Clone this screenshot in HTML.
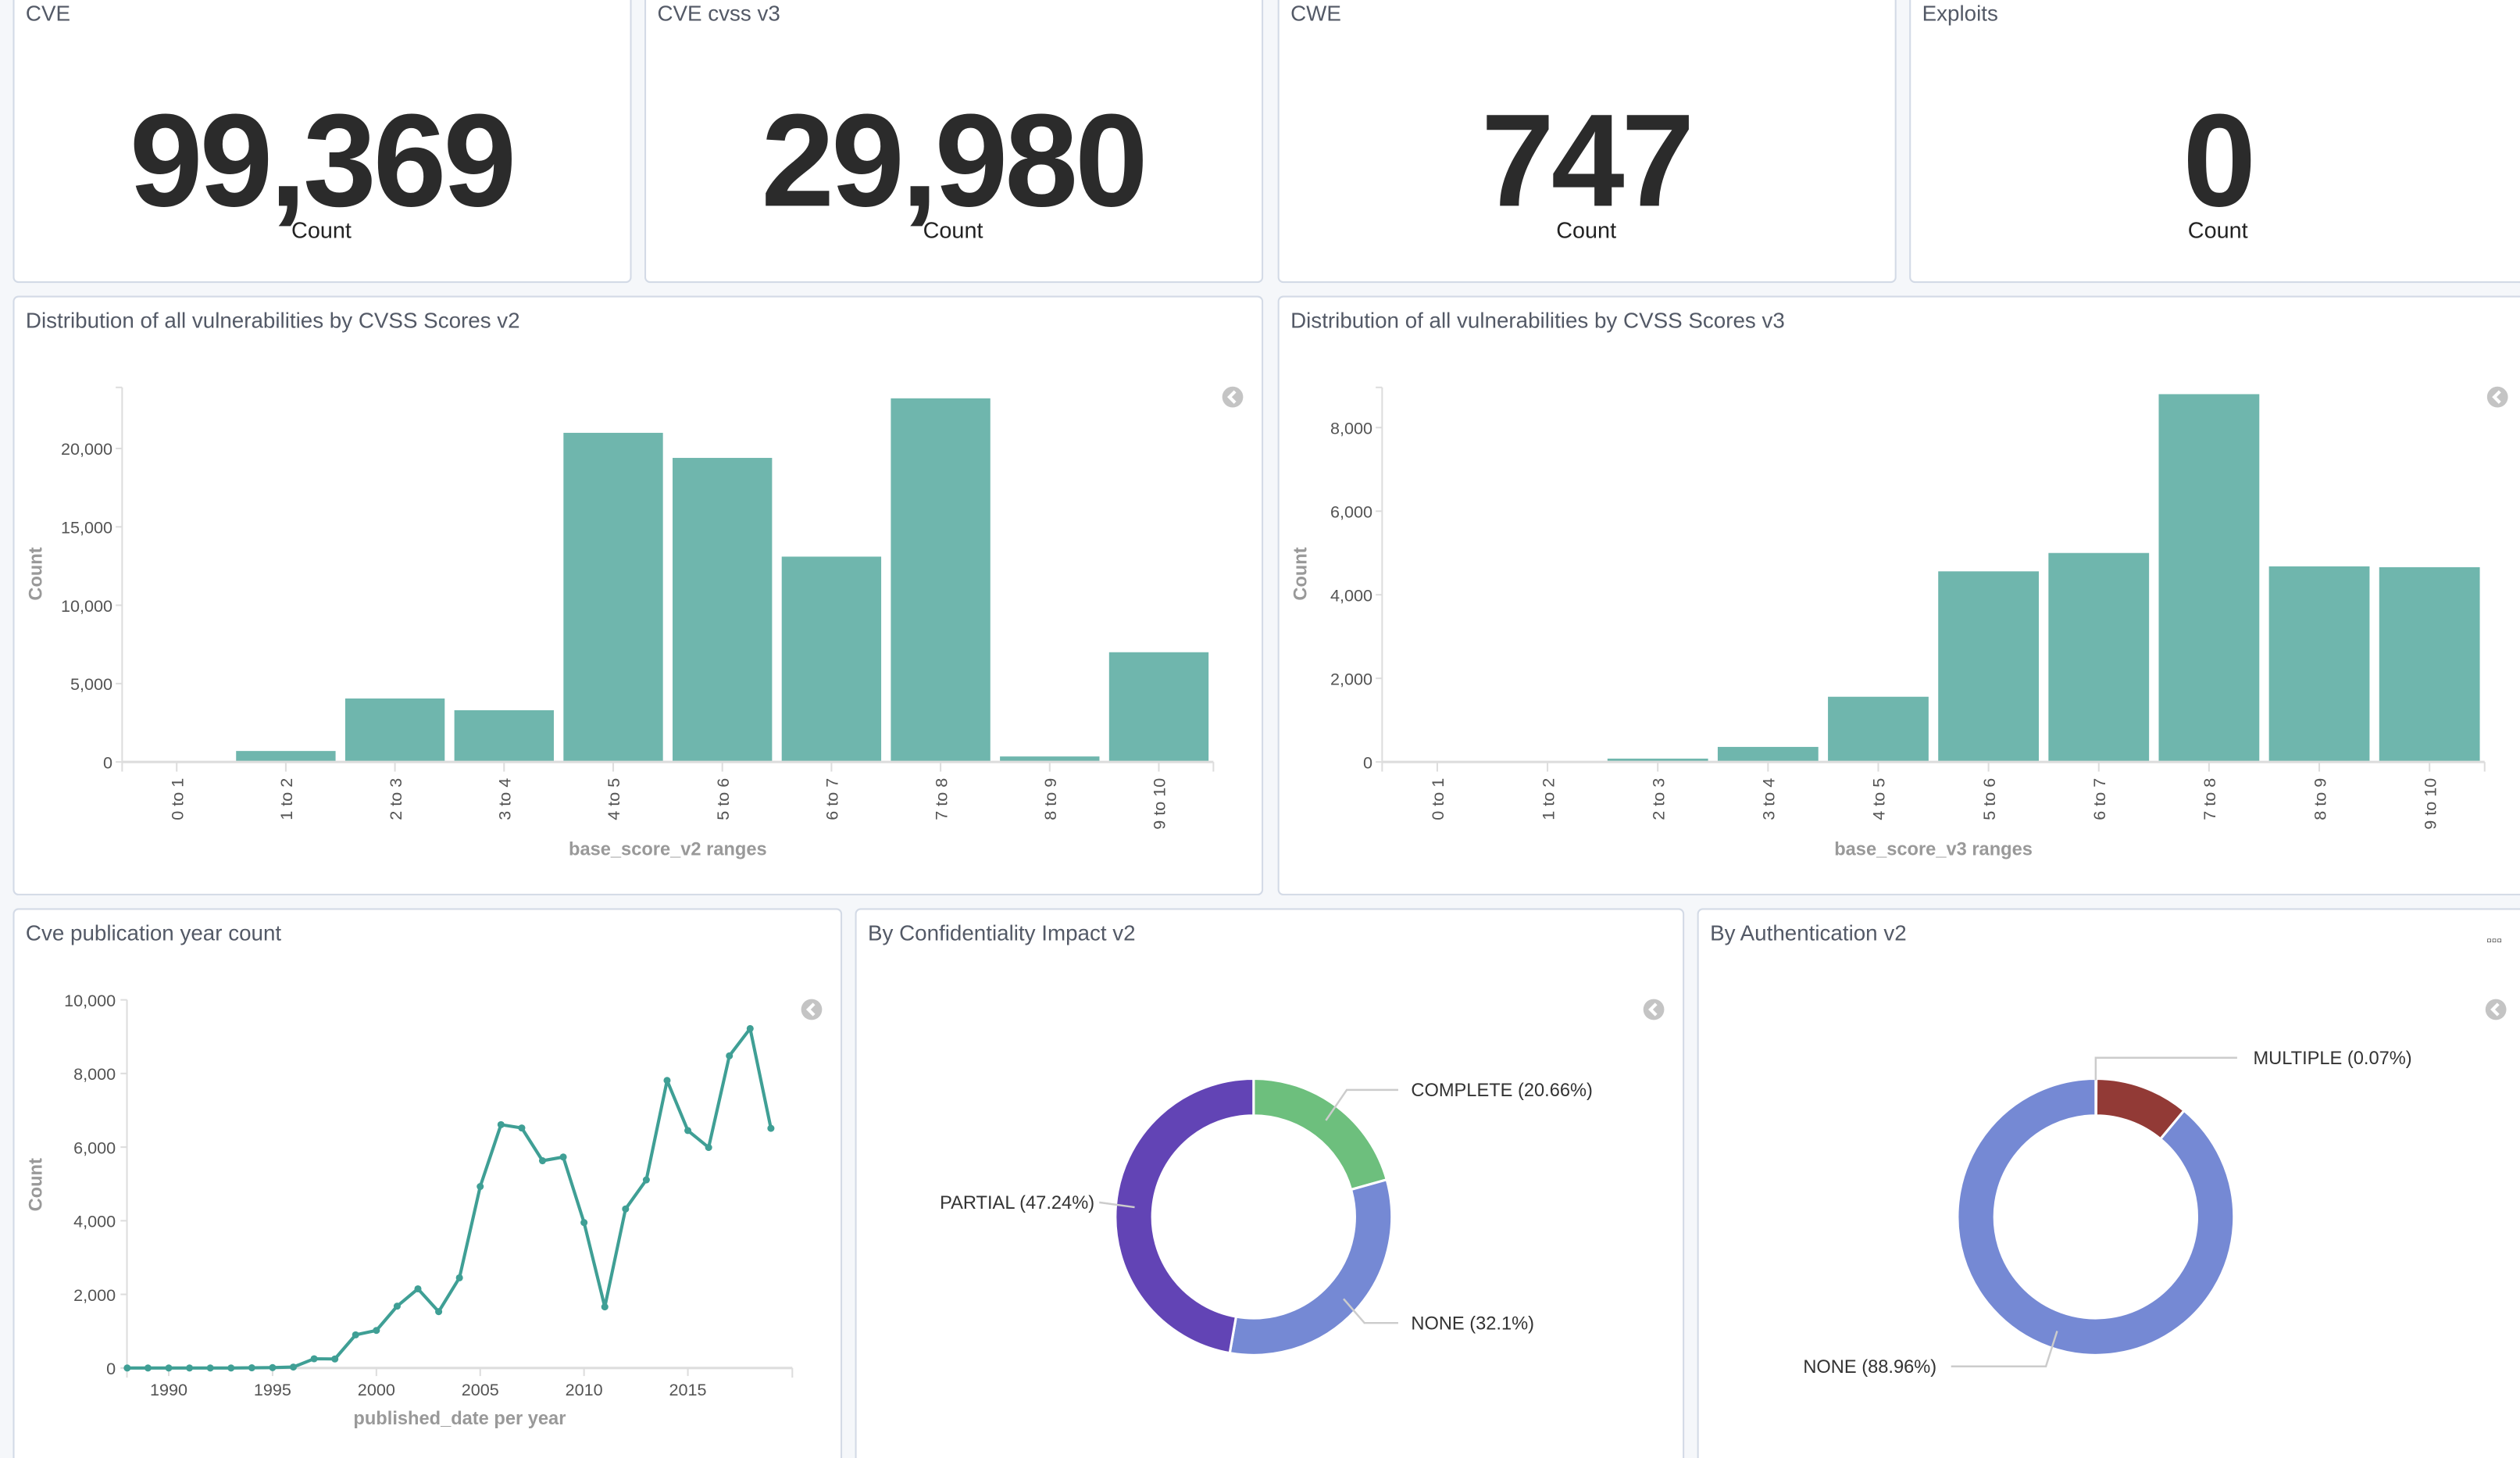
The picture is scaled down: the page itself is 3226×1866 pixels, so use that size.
<!DOCTYPE html>
<html><head><meta charset="utf-8">
<style>
html,body{margin:0;padding:0;background:#f5f7fa;}
svg{display:block;font-family:"Liberation Sans",sans-serif;}
.ttl{font-size:13.5px;fill:#535966;}
.tick{font-size:10.5px;fill:#545454;}
.axt{font-size:11.5px;fill:#999;font-weight:bold;}
.big{font-size:82px;font-weight:bold;fill:#2b2b2b;letter-spacing:-2px;}
.cnt{font-size:14px;fill:#222;}
.lbl{font-size:11.5px;fill:#333;}
</style></head><body>
<svg id="dash" width="3226" height="1866" viewBox="0 0 1568 907" preserveAspectRatio="none" xmlns="http://www.w3.org/2000/svg">
<rect width="1568" height="907" fill="#f5f7fa"/>
<g id="panels"></g>
<g id="charts"></g>
</svg>
<script>
// ---- data ----
const metricTitles = ['CVE','CVE cvss v3','CWE','Exploits'];
const metricValues = ['99,369','29,980','747','0'];
const v2Categories = ['0 to 1','1 to 2','2 to 3','3 to 4','4 to 5','5 to 6','6 to 7','7 to 8','8 to 9','9 to 10'];
const v2Values = [0,700,4050,3300,21000,19400,13100,23200,350,7000];
const v2Ticks = [0,5000,10000,15000,20000];
const v3Categories = ['0 to 1','1 to 2','2 to 3','3 to 4','4 to 5','5 to 6','6 to 7','7 to 8','8 to 9','9 to 10'];
const v3Values = [0,0,80,360,1560,4560,5000,8800,4680,4660];
const v3Ticks = [0,2000,4000,6000,8000];
const years = [1988,1989,1990,1991,1992,1993,1994,1995,1996,1997,1998,1999,2000,2001,2002,2003,2004,2005,2006,2007,2008,2009,2010,2011,2012,2013,2014,2015,2016,2017,2018,2019];
const yearCounts = [0,0,0,0,0,0,5,10,25,250,245,900,1020,1680,2150,1530,2450,4930,6610,6520,5630,5730,3950,1660,4320,5110,7810,6450,5990,8480,9220,6510];
const yearTicks = [1990,1995,2000,2005,2010,2015];
const lineYTicks = [0,2000,4000,6000,8000,10000];
const confLabels = ['COMPLETE','NONE','PARTIAL'];
const confValues = [20.66,32.1,47.24];
const confColors = ['#6dbf7d','#7589d4','#6244b5'];
const authLabels = ['MULTIPLE','SINGLE','NONE'];
const authValues = [0.07,10.97,88.96];
const authColors = ['#923a36','#923a36','#7589d4'];

const NS='http://www.w3.org/2000/svg';
function mk(tag,attrs,parent,text){const e=document.createElementNS(NS,tag);for(const k in attrs)e.setAttribute(k,attrs[k]);if(text!==undefined)e.textContent=text;parent.appendChild(e);return e;}
const P=document.getElementById('panels'), C=document.getElementById('charts');
const fmt=n=>n.toLocaleString('en-US');

function panel(x,y,w,h,title,name){
  const g=mk('g',{},P);
  
  
  mk('rect',{x:x+0.5,y:y+0.5,width:w,height:h,rx:3,fill:'#fff',stroke:'#d3dae6'},g);
  const t=mk('text',{x:x+8,y:y+20,class:'ttl'},g,title);
  
  
}
// metric panels
const mx=[8,401,795,1188];
metricTitles.forEach((t,i)=>{
  panel(mx[i],-6,384,181,t,'metric-panel-'+i);
  const cx=mx[i]+192;
  const title=P.lastChild.querySelector('text'); title.setAttribute('y',13);
  const v=mk('text',{x:cx,y:128,'text-anchor':'middle',class:'big'},P,metricValues[i]);
  
  
  const c=mk('text',{x:cx,y:148,'text-anchor':'middle',class:'cnt'},P,'Count');
  
  
});
panel(8,184,777,372,'Distribution of all vulnerabilities by CVSS Scores v2','v2-panel');
panel(795,184,780,372,'Distribution of all vulnerabilities by CVSS Scores v3','v3-panel');
panel(8,565,515,350,'Cve publication year count','year-panel');
panel(532,565,515,350,'By Confidentiality Impact v2','conf-panel');
panel(1056,565,520,350,'By Authentication v2','auth-panel');

function collapse(x,y){
  const g=mk('g',{},C);
  
  
  mk('circle',{cx:x,cy:y,r:6.5,fill:'#c4c4c4'},g);
  mk('path',{d:`M${x+1.5},${y-3.5} L${x-2},${y} L${x+1.5},${y+3.5}`,stroke:'#fff','stroke-width':2,fill:'none'},g);
}
collapse(767,247);collapse(1554,247);collapse(505,628);collapse(1029,628);collapse(1553,628);
const dots=mk('text',{x:1552,y:588,'text-anchor':'middle','font-size':'9px',fill:'#333'},C,'▫▫▫');



function barChart(cats,vals,ticks,x0,x1,y0,pxPer,yTop,xTitle,nm){
  const g=mk('g',{},C);
  
  
  const ys=v=>y0-v*pxPer;
  const band=(x1-x0)/cats.length;
  mk('line',{x1:x0,y1:yTop,x2:x0,y2:y0+6,stroke:'#ddd'},g);
  mk('line',{x1:x0-4,y1:yTop,x2:x0,y2:yTop,stroke:'#ddd'},g);
  ticks.forEach(t=>{
    mk('line',{x1:x0-4,y1:ys(t),x2:x0,y2:ys(t),stroke:'#ddd'},g);
    const tl=mk('text',{x:x0-6,y:ys(t)+4,'text-anchor':'end',class:'tick'},g,fmt(t));
    
    
  });
  vals.forEach((v,i)=>{
    const bx=x0+i*band;
    const r=mk('rect',{x:bx+3,y:ys(v),width:band-6,height:v*pxPer,fill:'#6fb6ad'},g);
    
    
    const cx=bx+band/2;
    mk('line',{x1:cx,y1:y0,x2:cx,y2:y0+6,stroke:'#ddd'},g);
    const tl=mk('text',{x:0,y:0,transform:`translate(${cx+4},${y0+10}) rotate(-90)`,'text-anchor':'end',class:'tick'},g,cats[i]);
    
    
  });
  mk('line',{x1:x0,y1:y0,x2:x1,y2:y0,stroke:'#ddd','stroke-width':1.5},g);
  mk('line',{x1:x1,y1:y0,x2:x1,y2:y0+6,stroke:'#ddd'},g);
  const xt=mk('text',{x:(x0+x1)/2,y:532,'text-anchor':'middle',class:'axt'},g,xTitle);
  
  
  const yt=mk('text',{x:0,y:0,transform:`translate(${nm==='v2-chart'?26:813},357) rotate(-90)`,'text-anchor':'middle',class:'axt'},g,'Count');
  
  
}
barChart(v2Categories,v2Values,v2Ticks,76,755,474,195/20000,241,'base_score_v2 ranges','v2-chart');
barChart(v3Categories,v3Values,v3Ticks,860,1546,474,208/8000,241,'base_score_v3 ranges','v3-chart');

// line chart
(function(){
  const g=mk('g',{},C);
  
  
  const x0=79,x1=493,y0=851;
  const xs=yr=>105+(yr-1990)*(428-105)/25;
  const ys=v=>y0-v*(229/10000);
  mk('line',{x1:x0,y1:622,x2:x0,y2:y0+6,stroke:'#ddd'},g);
  lineYTicks.forEach(t=>{
    mk('line',{x1:x0-4,y1:ys(t),x2:x0,y2:ys(t),stroke:'#ddd'},g);
    const tl=mk('text',{x:x0-7,y:ys(t)+4,'text-anchor':'end',class:'tick'},g,fmt(t));
    
    
  });
  mk('line',{x1:x0,y1:y0,x2:x1,y2:y0,stroke:'#ddd','stroke-width':1.5},g);
  mk('line',{x1:x1,y1:y0,x2:x1,y2:y0+6,stroke:'#ddd'},g);
  yearTicks.forEach(t=>{
    mk('line',{x1:xs(t),y1:y0,x2:xs(t),y2:y0+5,stroke:'#ddd'},g);
    const tl=mk('text',{x:xs(t),y:y0+17,'text-anchor':'middle',class:'tick'},g,t);
    
    
  });
  const pts=years.map((y,i)=>xs(y).toFixed(2)+','+ys(yearCounts[i]).toFixed(2)).join(' ');
  const pl=mk('polyline',{points:pts,fill:'none',stroke:'#3f9f95','stroke-width':2,'stroke-linejoin':'round'},g);
  
  
  years.forEach((y,i)=>{
    const c=mk('circle',{cx:xs(y),cy:ys(yearCounts[i]),r:2.2,fill:'#3f9f95'},g);
    
    
  });
  const xt=mk('text',{x:286,y:886,'text-anchor':'middle',class:'axt'},g,'published_date per year');
  
  
  const yt=mk('text',{x:0,y:0,transform:'translate(26,737) rotate(-90)','text-anchor':'middle',class:'axt'},g,'Count');
  
  
})();

function donut(labels,vals,colors,cx,cy,R,r,nm,labelPos){
  const g=mk('g',{},C);
  
  
  const tot=vals.reduce((a,b)=>a+b,0);
  let a=0;
  const pt=(ang,rad)=>[cx+rad*Math.sin(ang),cy-rad*Math.cos(ang)];
  vals.forEach((v,i)=>{
    const a1=a+v/tot*2*Math.PI;
    const lg=(a1-a)>Math.PI?1:0;
    const [x1,y1]=pt(a,R),[x2,y2]=pt(a1,R),[x3,y3]=pt(a1,r),[x4,y4]=pt(a,r);
    const p=mk('path',{d:`M${x1},${y1} A${R},${R} 0 ${lg} 1 ${x2},${y2} L${x3},${y3} A${r},${r} 0 ${lg} 0 ${x4},${y4} Z`,fill:colors[i],stroke:'#fff','stroke-width':1.5},g);
    
    
    a=a1;
  });
  labelPos.forEach(lp=>{
    mk('polyline',{points:lp.line,fill:'none',stroke:'#ccc','stroke-width':1.2},g);
    const t=mk('text',{x:lp.x,y:lp.y,'text-anchor':lp.anchor,class:'lbl'},g,lp.text);
    
    
  });
}
donut(confLabels,confValues,confColors,780,757,86,63,'confidentiality-donut',[
  {line:'825,697 838,678 870,678',x:878,y:682,anchor:'start',text:'COMPLETE ('+confValues[0]+'%)'},
  {line:'836,808 849,823 870,823',x:878,y:827,anchor:'start',text:'NONE ('+confValues[1]+'%)'},
  {line:'684,748 706,751',x:681,y:752,anchor:'end',text:'PARTIAL ('+confValues[2]+'%)'}
]);
donut(authLabels,authValues,authColors,1304,757,86,63,'authentication-donut',[
  {line:'1304,672 1304,658 1392,658',x:1402,y:662,anchor:'start',text:'MULTIPLE ('+authValues[0]+'%)'},
  {line:'1280,828 1273,850 1214,850',x:1205,y:854,anchor:'end',text:'NONE ('+authValues[2]+'%)'}
]);
</script>
</body></html>
